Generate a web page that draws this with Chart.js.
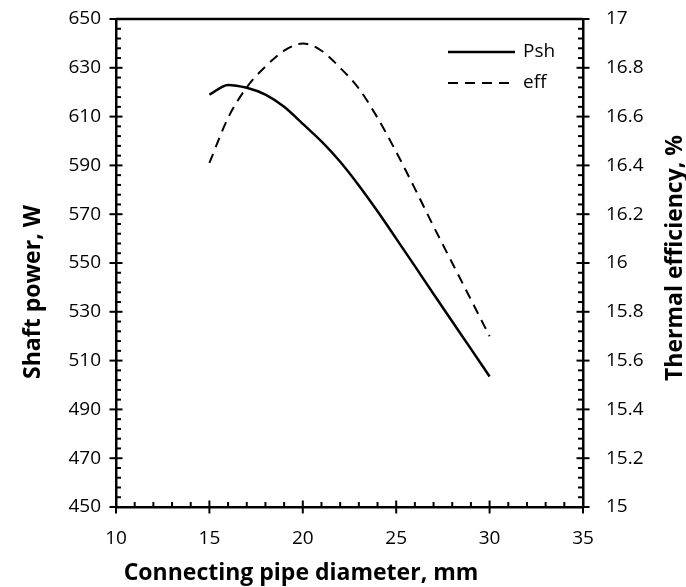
<!DOCTYPE html>
<html>
<head>
<meta charset="utf-8">
<script src="https://cdn.jsdelivr.net/npm/chart.js@4.4.1/dist/chart.umd.min.js"></script>
<style>
  html, body { margin: 0; padding: 0; background: #fff; }
  #wrap { width: 686px; height: 587px; }
</style>
</head>
<body>
<div id="wrap"><canvas id="chart"></canvas></div>
<script>
// data
var diameters = [15, 16, 17, 18, 19, 20, 21, 22, 23, 24, 25, 26, 27, 28, 29, 30];
var shaftPower = [619, 623, 621.8, 619, 614, 607, 599.8, 591.5, 581.8, 571.2, 560, 548.7, 537.3, 526, 514.8, 503.5];
var efficiency = [16.41, 16.595, 16.72, 16.805, 16.87, 16.90, 16.87, 16.80, 16.715, 16.595, 16.455, 16.305, 16.15, 16.00, 15.85, 15.70];

var xTitle = 'Connecting pipe diameter, mm';
var yTitle = 'Shaft power, W';
var y1Title = 'Thermal efficiency, %';

var tickFont = { family: 'Open Sans', size: 19 };
var titleFont = { family: 'Open Sans', size: 23, weight: 'bold' };

function toPoints(xs, ys) {
  return xs.map(function (x, i) { return { x: x, y: ys[i] }; });
}

// major ticks cross the axis, minor ticks sit inside the plot
function drawAxisTicks(ctx, scale, min, max, major, minor, pos, inwardSign, vertical) {
  var n = Math.round((max - min) / minor);
  var per = Math.round(major / minor);
  for (var i = 0; i <= n; i++) {
    var p = scale.getPixelForValue(min + i * minor);
    var isMajor = i % per === 0;
    var a = isMajor ? pos - 6.5 : pos;
    var b = isMajor ? pos + 6.5 : pos + inwardSign * 5;
    ctx.beginPath();
    if (vertical) { ctx.moveTo(a, p); ctx.lineTo(b, p); }
    else { ctx.moveTo(p, a); ctx.lineTo(p, b); }
    ctx.stroke();
  }
}

function drawTitle(ctx, text, x, y, angle) {
  ctx.save();
  ctx.translate(x, y);
  ctx.rotate(angle);
  ctx.font = 'bold ' + titleFont.size + 'px ' + titleFont.family;
  ctx.fillStyle = '#000';
  ctx.textAlign = 'center';
  ctx.textBaseline = 'middle';
  ctx.fillText(text, 0, 0);
  ctx.restore();
}

var frameTicks = {
  id: 'frameTicks',
  afterDraw: function (chart) {
    var ctx = chart.ctx, area = chart.chartArea;
    ctx.save();
    ctx.strokeStyle = '#000';
    ctx.lineWidth = 2;
    drawAxisTicks(ctx, chart.scales.y, 450, 650, 20, 4, area.left, 1, true);
    drawAxisTicks(ctx, chart.scales.y1, 15, 17, 0.2, 0.04, area.right, -1, true);
    drawAxisTicks(ctx, chart.scales.x, 10, 35, 5, 1, area.bottom, -1, false);
    ctx.lineWidth = 2.5;
    ctx.beginPath();
    ctx.moveTo(area.left, area.top);
    ctx.lineTo(area.right, area.top);
    ctx.stroke();
    ctx.restore();

    // axis titles sit off-centre in the original, so place them by hand
    drawTitle(ctx, xTitle, 301, 573, 0);
    drawTitle(ctx, yTitle, 33, 292, -Math.PI / 2);
    drawTitle(ctx, y1Title, 675, 258, -Math.PI / 2);
  }
};

// legend drawn inside the plot, top right
var innerLegend = {
  id: 'innerLegend',
  afterDraw: function (chart) {
    var ctx = chart.ctx;
    ctx.save();
    ctx.font = tickFont.size + 'px ' + tickFont.family;
    ctx.fillStyle = '#000';
    ctx.textBaseline = 'middle';
    chart.data.datasets.forEach(function (ds, i) {
      var y = 52 + i * 31;
      ctx.strokeStyle = '#000';
      ctx.lineWidth = ds.borderWidth;
      ctx.setLineDash(ds.borderDash || []);
      ctx.beginPath();
      ctx.moveTo(448, y);
      ctx.lineTo(515, y);
      ctx.stroke();
      ctx.setLineDash([]);
      ctx.fillText(ds.label, 523, y);
    });
    ctx.restore();
  }
};

function fixWidth(w) {
  return function (s) { s.width = w; s.paddingTop = 0; s.paddingBottom = 0; };
}

new Chart(document.getElementById('chart'), {
  type: 'line',
  data: {
    datasets: [
      {
        label: 'Psh',
        data: toPoints(diameters, shaftPower),
        yAxisID: 'y',
        borderColor: '#000',
        borderWidth: 2.5,
        pointRadius: 0,
        cubicInterpolationMode: 'monotone'
      },
      {
        label: 'eff',
        data: toPoints(diameters, efficiency),
        yAxisID: 'y1',
        borderColor: '#000',
        borderWidth: 2,
        borderDash: [10, 7],
        pointRadius: 0,
        cubicInterpolationMode: 'monotone'
      }
    ]
  },
  options: {
    responsive: true,
    maintainAspectRatio: false,
    animation: false,
    layout: { padding: { top: 19, left: 0, right: 0, bottom: 0 } },
    plugins: { legend: { display: false }, tooltip: { enabled: false } },
    scales: {
      x: {
        type: 'linear',
        min: 10, max: 35,
        ticks: { stepSize: 5, color: '#000', font: tickFont, padding: 20, maxRotation: 0 },
        grid: { display: true, drawOnChartArea: false, drawTicks: false },
        border: { color: '#000', width: 2.5 },
        afterFit: function (s) { s.height = 80; s.paddingLeft = 0; s.paddingRight = 0; }
      },
      y: {
        position: 'left',
        min: 450, max: 650,
        ticks: { stepSize: 20, color: '#000', font: tickFont, padding: 15 },
        grid: { display: true, drawOnChartArea: false, drawTicks: false },
        border: { color: '#000', width: 2.5 },
        afterFit: fixWidth(116)
      },
      y1: {
        position: 'right',
        min: 15, max: 17,
        ticks: {
          stepSize: 0.2, color: '#000', font: tickFont, padding: 23,
          callback: function (v) { return String(+v.toFixed(1)); }
        },
        grid: { display: true, drawOnChartArea: false, drawTicks: false },
        border: { color: '#000', width: 2.5 },
        afterFit: fixWidth(103)
      }
    }
  },
  plugins: [frameTicks, innerLegend]
});
</script>
</body>
</html>
